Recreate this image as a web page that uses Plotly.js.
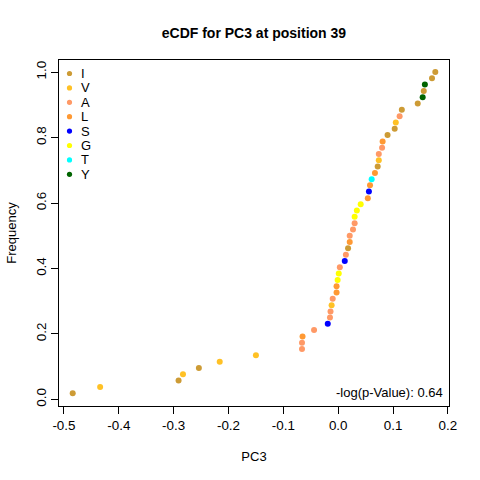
<!DOCTYPE html>
<html>
<head>
<meta charset="utf-8">
<script src="https://cdn.plot.ly/plotly-3.0.1.min.js"></script>
<style>html,body{margin:0;padding:0;background:#fff;}#chart{width:480px;height:480px;}</style>
</head>
<body>
<div id="chart"></div>
<script>
// Values (sorted PC3 values, their eCDF frequency and residue)
var pc3 = [-0.484, -0.434, -0.291, -0.283, -0.254, -0.216, -0.150, -0.066, -0.066, -0.065,
           -0.044, -0.019, -0.015, -0.014, -0.012, -0.010, -0.003, -0.003, -0.001, 0.001,
           0.003, 0.012, 0.014, 0.018, 0.021, 0.021, 0.027, 0.030, 0.030, 0.034,
           0.041, 0.054, 0.056, 0.058, 0.061, 0.067, 0.072, 0.074, 0.074, 0.080,
           0.081, 0.090, 0.103, 0.105, 0.112, 0.116, 0.145, 0.154, 0.156, 0.158,
           0.171, 0.177];
var freq = [0.019, 0.038, 0.058, 0.077, 0.096, 0.115, 0.135, 0.154, 0.173, 0.192,
            0.212, 0.231, 0.250, 0.269, 0.288, 0.308, 0.327, 0.346, 0.365, 0.385,
            0.404, 0.423, 0.442, 0.462, 0.481, 0.500, 0.519, 0.538, 0.558, 0.577,
            0.596, 0.615, 0.635, 0.654, 0.673, 0.692, 0.712, 0.731, 0.750, 0.769,
            0.788, 0.808, 0.827, 0.846, 0.865, 0.885, 0.904, 0.923, 0.942, 0.962,
            0.981, 1.000];
var residue = ["I","V","I","V","I","V","V","A","A","L",
               "A","S","A","A","V","A","L","L","G","G",
               "A","S","A","I","L","A","A","A","G","G",
               "G","L","S","L","T","L","I","V","A","A",
               "L","I","I","V","A","I","I","Y","I","Y",
               "I","I"];
var legendOrder = ["I","V","A","L","S","G","T","Y"];
var colors = ["#CD9B35","#FFC125","#FF9966","#FF9933","#0000FF","#FFFF00","#00FFFF","#006400"];
var pValueText = "-log(p-Value): 0.64";

var traces = legendOrder.map(function(r, k){
  var xs = [], ys = [];
  for (var i = 0; i < pc3.length; i++) {
    if (residue[i] === r) { xs.push(pc3[i]); ys.push(freq[i]); }
  }
  return {
    x: xs, y: ys, name: r, type: "scatter", mode: "markers",
    marker: {color: colors[k], size: 6}, showlegend: false
  };
});

// Plot area geometry (pixels) used for the hand-placed legend
var L = 59, R = 31, T = 60, B = 74, W = 480, H = 480;
var pw = W - L - R, ph = H - T - B;
var legMarkX = (69.5 - L) / pw, legTextX = (79 - L) / pw;
var legTop = 73.5, legStep = 14.4;

var font = "Liberation Sans, Arial, sans-serif";
var shapes = [], annotations = [];
legendOrder.forEach(function(r, k){
  var yp = (H - B - (legTop + k * legStep)) / ph;
  shapes.push({type: "circle", xref: "paper", yref: "paper",
    xsizemode: "pixel", ysizemode: "pixel", xanchor: legMarkX, yanchor: yp,
    x0: -2.6, x1: 2.6, y0: -2.6, y1: 2.6,
    fillcolor: colors[k], line: {width: 0}});
  annotations.push({text: r, xref: "paper", yref: "paper", x: legTextX, y: yp,
    xanchor: "left", yanchor: "middle", showarrow: false,
    font: {family: font, size: 13, color: "#000"}});
});
annotations.push({
  text: pValueText, xref: "paper", yref: "paper", x: (444.5 - L) / pw, y: (H - B - 392) / ph,
  xanchor: "right", yanchor: "middle", showarrow: false,
  font: {family: font, size: 13, color: "#000"}
});

var layout = {
  width: W, height: H,
  margin: {l: L, r: R, t: T, b: B},
  paper_bgcolor: "#fff", plot_bgcolor: "#fff",
  font: {family: font, size: 13, color: "#000"},
  title: {text: "<b>eCDF for PC3 at position 39</b>", x: 0.529, xanchor: "center", y: 0.932, yanchor: "middle",
          font: {family: font, size: 14, color: "#000"}},
  xaxis: {
    range: [-0.509, 0.202], showgrid: false, zeroline: false,
    showline: true, linecolor: "#000", linewidth: 1, mirror: true,
    ticks: "outside", ticklen: 7, tickcolor: "#000", tickwidth: 1,
    tickvals: [-0.5,-0.4,-0.3,-0.2,-0.1,0,0.1,0.2],
    ticktext: ["-0.5","-0.4","-0.3","-0.2","-0.1","0.0","0.1","0.2"],
    tickfont: {family: font, size: 13.4},
    title: {text: "PC3", font: {family: font, size: 13}, standoff: 19}
  },
  yaxis: {
    range: [-0.020, 1.037], showgrid: false, zeroline: false,
    showline: true, linecolor: "#000", linewidth: 1, mirror: true,
    ticks: "outside", ticklen: 7, tickcolor: "#000", tickwidth: 1,
    tickvals: [0,0.2,0.4,0.6,0.8,1.0],
    ticktext: ["0.0","0.2","0.4","0.6","0.8","1.0"],
    tickangle: -90,
    tickfont: {family: font, size: 13.4},
    title: {text: "Frequency", font: {family: font, size: 13}, standoff: 14}
  },
  showlegend: false,
  shapes: shapes,
  annotations: annotations
};

Plotly.newPlot("chart", traces, layout, {displayModeBar: false, staticPlot: true});
</script>
</body>
</html>
